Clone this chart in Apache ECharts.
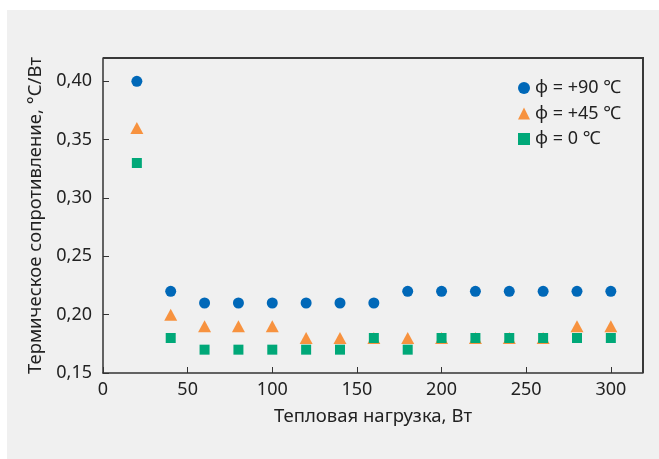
<!DOCTYPE html>
<html>
<head>
<meta charset="utf-8">
<title>Термическое сопротивление</title>
<style>
body{margin:0;padding:0;background:#fff;}
#panel{position:absolute;left:7px;top:10px;width:652px;height:449px;background:#f0f0f0;}
#main{position:absolute;left:0;top:0;width:659px;height:459px;}
/* top and right edges of the plot box, same rectangle as the grid below */
#frame{position:absolute;left:103px;top:57px;width:541px;height:316px;box-sizing:border-box;
  border-top:2px solid #383838;border-right:2px solid #383838;pointer-events:none;}
</style>
</head>
<body>
<div id="panel"></div>
<div id="main"></div>
<div id="frame"></div>
<script src="https://cdn.jsdelivr.net/npm/echarts@6/dist/echarts.min.js"></script>
<script>
var loads=[20,40,60,80,100,120,140,160,180,200,220,240,260,280,300];
var phi90=[0.40,0.22,0.21,0.21,0.21,0.21,0.21,0.21,0.22,0.22,0.22,0.22,0.22,0.22,0.22];
var phi45=[0.36,0.20,0.19,0.19,0.19,0.18,0.18,0.18,0.18,0.18,0.18,0.18,0.18,0.19,0.19];
var phi0=[0.33,0.18,0.17,0.17,0.17,0.17,0.17,0.18,0.17,0.18,0.18,0.18,0.18,0.18,0.18];
var names=['φ = +90 ℃','φ = +45 ℃','φ = 0 ℃'];
var colors=['#0068b8','#f7923f','#00a878'];

function pairs(ys){
  var out=[];
  for(var i=0;i<loads.length;i++){ out.push([loads[i],ys[i]]); }
  return out;
}

var font='"Noto Sans", "DejaVu Sans", sans-serif';
var myChart=echarts.init(document.getElementById('main'));
var option={
  backgroundColor:'transparent',
  textStyle:{fontFamily:font,color:'#222'},
  grid:{left:103,right:16,top:58,bottom:86},
  legend:{
    orient:'vertical',
    left:513,top:74,
    itemWidth:12,itemHeight:12,itemGap:7.5,
    textStyle:{fontFamily:font,fontSize:18,color:'#222',lineHeight:18},
    data:[
      {name:names[0],icon:'circle'},
      {name:names[1],icon:'triangle'},
      {name:names[2],icon:'rect'}
    ]
  },
  xAxis:{
    type:'value',min:0,max:319,interval:50,
    name:'Тепловая нагрузка, Вт',nameLocation:'middle',nameGap:34,
    nameTextStyle:{fontFamily:font,fontSize:18.5,color:'#222'},
    axisLine:{show:true,onZero:false,lineStyle:{color:'#333',width:1.5}},
    axisTick:{show:true,inside:true,length:6,lineStyle:{color:'#333',width:1}},
    axisLabel:{fontFamily:font,fontSize:18,color:'#222',margin:8,showMaxLabel:false},
    splitLine:{show:false}
  },
  yAxis:{
    type:'value',min:0.15,max:0.42,interval:0.05,
    name:'Термическое сопротивление, °С/Вт',nameLocation:'middle',nameGap:57,
    nameTextStyle:{fontFamily:font,fontSize:18.5,color:'#222'},
    axisLine:{show:true,onZero:false,lineStyle:{color:'#333',width:1.5}},
    axisTick:{show:true,inside:true,length:6,lineStyle:{color:'#333',width:1}},
    axisLabel:{
      fontFamily:font,fontSize:18,color:'#222',margin:11,showMaxLabel:false,
      formatter:function(v){ return v.toFixed(2).replace('.',','); }
    },
    splitLine:{show:false}
  },
  series:[
    {name:names[0],type:'scatter',symbol:'circle',symbolSize:11,
      itemStyle:{color:colors[0],opacity:1},data:pairs(phi90),z:2},
    {name:names[1],type:'scatter',symbol:'triangle',symbolSize:[13,12],
      itemStyle:{color:colors[1],opacity:1},data:pairs(phi45),z:3},
    {name:names[2],type:'scatter',symbol:'rect',symbolSize:10,
      itemStyle:{color:colors[2],opacity:1},data:pairs(phi0),z:4}
  ]
};
myChart.setOption(option);
</script>
</body>
</html>
